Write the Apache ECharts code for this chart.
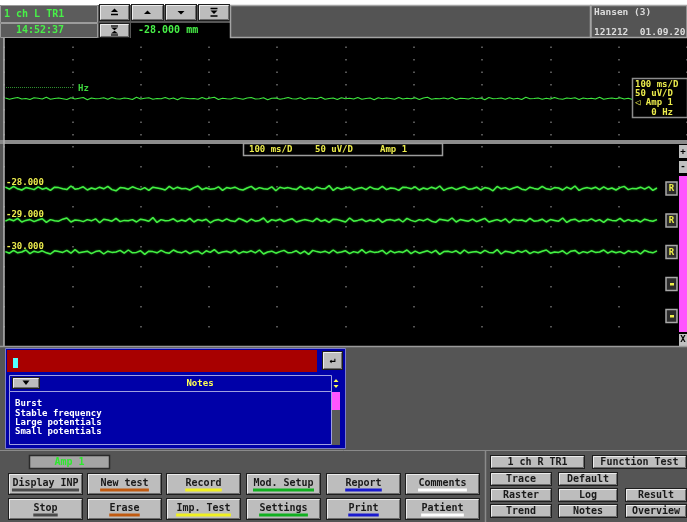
<!DOCTYPE html>
<html>
<head>
<meta charset="utf-8">
<script src="https://cdn.jsdelivr.net/npm/echarts@6/dist/echarts.min.js"></script>
<style>
html, body { margin: 0; padding: 0; background: #fff; }
#main { width: 687px; height: 522px; }
</style>
</head>
<body>
<div id="main"></div>
<script>
// sample spacing of the traces, ms
const SAMPLE_MS = 6

// upper (free run) trace, uV around its baseline
const upperBaseline = -242
const upperNoise = [2, -3, 1, 4, -2, 0, -4, 3, 1, -2,
  5, -3, 0, 2, -1, -4, 3, -2, 1, 4,
  -5, 2, -1, 0, 3, -3, 4, -1, -2, 2,
  0, -4, 5, -2, 1, 3, -3, 0, -1, 4,
  -2, 2, -5, 3, 1, -1, 0, -3, 4, -2,
  2, 5, -4, 1, -1, -2, 3, 0, -3, 2,
  4, -2, -1, 3, -5, 1, 2, -3, 0, 4,
  -1, -2, 3, -4, 2, 1, -1, 5, -3, 0,
  2, -4, 3, -1, 1, -2, 4, -3, 0, 2,
  -5, 3, -1, 2, 0, -3, 4, -2, 1, -1,
  3, -4, 2, 5, -3, 0, -1, 2, -2, 4,
  -4, 1, 0, -2, 3, -1, 2, -5, 4, -1,
  0, 2, -3, 3, -2, 1, -4, 5, -1, 0,
  2, -3, 1, -2, 4, -1, -3, 2, 0, 3,
  -4, 2, -1, 1, -2, 5, -3, 0, 2, -1,
  3, -2, 1, -4, 2]

// lower traces
const channelLabels = ['-28.000', '-29.000', '-30.000']
const channelBaselines = [-111, -191, -270]
const emptySlotBaselines = [-350, -430]
const noiseCh1 = [3, -2, 5, -1, -4, 2, 0, -3, 4, -2,
  1, -5, 3, 2, -1, -3, 6, -2, 0, 4,
  -4, 1, -2, 3, -1, 5, -3, -6, 2, 1,
  -2, 4, 0, -3, 2, -5, 3, 1, -1, -4,
  5, -2, 3, -1, 0, -4, 2, 6, -3, 1,
  -2, -1, 4, -5, 2, 0, 3, -2, -4, 1,
  5, -3, 2, -1, -2, 4, -6, 3, 0, 2,
  -1, -3, 5, -2, 1, -4, 3, 0, -1, 7,
  -5, 2, -2, 1, 3, -4, 0, 2, -3, 4,
  -1, -2, 5, -3, 1, 0, -5, 3, 2, -1,
  4, -4, 1, -2, 3, -1, 6, -5, 0, 2,
  -3, 1, 4, -2, -1, 3, -4, 2, 0, -6,
  5, -1, 2, -3, 1, 4, -2, -4, 3, 0,
  -2, 5, -1, -3, 2, 1, -4, 3, -2, 6,
  -5, 0, 2, -1, 3, -3, 4, -2, 1, -4,
  2, 5, -3, 0, -1, 3, -2, 4, -5, 1]
const noiseCh2 = [-2, 3, -1, 5, -4, 0, 2, -3, 1, 4,
  -5, 2, -1, -2, 3, 6, -4, 1, 0, -3,
  2, -1, 4, -6, 3, 1, -2, 5, -3, 0,
  -1, 2, -4, 3, 1, -2, 7, -5, 2, -1,
  0, 4, -3, 1, -2, 5, -4, 2, -1, 3,
  -6, 0, 2, -2, 4, -1, -3, 5, 1, -4,
  3, -2, 0, 6, -5, 2, -1, 3, -3, 1,
  4, -4, -1, 2, 0, -3, 5, -2, 1, -5,
  3, 2, -1, -4, 6, -2, 0, 3, -3, 1,
  -2, 4, -5, 1, 2, -1, 3, -4, 5, 0,
  -3, 2, -1, 4, -2, -5, 3, 1, -1, 6,
  -4, 2, 0, -2, 3, -3, 1, 5, -4, -1,
  2, -2, 4, -6, 3, 0, 1, -3, 5, -2,
  -1, 3, -4, 2, 0, -2, 6, -5, 1, 3,
  -3, 1, -1, 4, -2, 2, -5, 3, 0, -1,
  5, -3, 2, -2, 1, -4, 3, 0, -2, 2]
const noiseCh3 = [1, -3, 4, -2, 0, 5, -4, 2, -1, 3,
  -2, -5, 3, 1, -1, 4, -3, 6, -2, 0,
  2, -4, 1, 3, -5, 2, -1, 0, 4, -3,
  5, -2, -1, 3, -6, 2, 1, -2, 4, -1,
  -3, 5, 0, -2, 3, -4, 1, 2, -5, 3,
  -1, 6, -3, 0, 2, -2, 4, -4, 1, -1,
  3, -2, 5, -5, 0, 2, -3, 1, 4, -2,
  -1, 3, -4, 2, -6, 4, 1, -1, 2, -3,
  5, -2, 0, 3, -4, 1, -2, 6, -3, 2,
  -1, 0, 4, -5, 3, -2, 1, -1, 5, -4,
  2, -3, 0, 3, -2, 4, -6, 1, 2, -1,
  3, -4, 5, -2, 0, 1, -3, 4, -1, -2,
  6, -5, 2, 0, -3, 3, -1, 4, -4, 1,
  -2, 2, 5, -3, 0, -1, 3, -5, 2, 4,
  -4, 1, -2, 3, -1, 0, 5, -3, 2, -2,
  1, -4, 3, -1, 2, -5, 4, 0, -2, 3]

const notesItems = ['Burst', 'Stable frequency', 'Large potentials', 'Small potentials']
const buttonRow1 = ['Display INP', 'New test', 'Record', 'Mod. Setup', 'Report', 'Comments']
const buttonRow2 = ['Stop', 'Erase', 'Imp. Test', 'Settings', 'Print', 'Patient']
const underlineRow1 = ['#4a4a4a', '#c05a10', '#f0f020', '#10b020', '#1a1ad0', '#ffffff']
const underlineRow2 = ['#4a4a4a', '#c05a10', '#f0f020', '#10b020', '#1a1ad0', '#ffffff']
const sideButtons = ['1 ch R TR1', 'Function Test', 'Trace', 'Default', 'Raster', 'Log', 'Result', 'Trend', 'Notes', 'Overview']

const FONT = '"DejaVu Sans Mono", monospace'
const GREEN = '#48f048'
const YELLOW = '#ecec4c'

const txt = (x, y, text, color, size, align) => ({
  type: 'text', x, y,
  style: {
    text, fill: color, font: `bold ${size}px ${FONT}`,
    textAlign: align || 'left', align: align || 'left',
    textVerticalAlign: 'middle', verticalAlign: 'middle'
  }
})
const box = (x, y, w, h, fill, stroke, lw) => {
  const style = { fill: fill || 'transparent' }
  if (stroke) { style.stroke = stroke; style.lineWidth = lw || 1 }
  return { type: 'rect', shape: { x, y, width: w, height: h }, style }
}
const line = (x1, y1, x2, y2, color, lw, dash) => ({
  type: 'line', shape: { x1, y1, x2, y2 },
  style: { stroke: color, lineWidth: lw || 1, lineDash: dash || null }
})
const tri = (points, color) => ({ type: 'polygon', shape: { points }, style: { fill: color || '#000' } })
const bevel = (x, y, w, h) => [
  box(x, y, w, h, '#1e1e1e'),
  box(x + 1, y + 1, w - 2, h - 2, '#bdbdbd'),
  { type: 'polyline', shape: { points: [[x + 1.5, y + h - 2], [x + 1.5, y + 1.5], [x + w - 2, y + 1.5]] }, style: { stroke: '#ececec', lineWidth: 1, fill: null } },
  { type: 'polyline', shape: { points: [[x + w - 1.5, y + 2], [x + w - 1.5, y + h - 1.5], [x + 2, y + h - 1.5]] }, style: { stroke: '#6c6c6c', lineWidth: 1, fill: null } }
]

const g = []

// header bar
g.push(box(0, 0, 687, 5, '#ffffff'))
g.push(box(0, 5, 687, 33, '#565656'))
g.push(box(0.5, 5.5, 97, 17, '#5c5c5c', '#9c9c9c', 1))
g.push(txt(4, 14, '1 ch L TR1', GREEN, 10))
g.push(box(0.5, 23.5, 97, 14, '#5c5c5c', '#9c9c9c', 1))
g.push(txt(40, 30.5, '14:52:37', GREEN, 10, 'center'))
g.push(...bevel(99, 4, 31, 17), ...bevel(131, 4, 33, 17), ...bevel(165, 4, 32, 17), ...bevel(198, 4, 32, 17), ...bevel(99, 23, 31, 15))
g.push(tri([[111, 12], [118, 12], [114.5, 8.5]]), line(111, 14.5, 118, 14.5, '#000', 1.5))
g.push(tri([[144, 14], [151, 14], [147.5, 10.5]]))
g.push(tri([[177.5, 11], [184.5, 11], [181, 14.5]]))
g.push(line(210.5, 8.5, 217.5, 8.5, '#000', 1.5), tri([[210.5, 10.5], [217.5, 10.5], [214, 14]]), line(210.5, 16, 217.5, 16, '#000', 1.5))
g.push(line(111, 26, 118, 26, '#000', 1.2), tri([[111, 27.5], [118, 27.5], [114.5, 30.2]]), tri([[111, 33.5], [118, 33.5], [114.5, 30.8]]), line(111, 35, 118, 35, '#000', 1.2))
g.push(box(131, 23, 99, 15, '#000'))
g.push(txt(138, 30.5, '-28.000 mm', GREEN, 10))
g.push(box(230.5, 5.5, 360, 32, '#545454', '#a4a4a4', 1.5))
g.push(box(591, 5.5, 96, 32, '#545454', '#a4a4a4', 1.5))
g.push(txt(594, 13, 'Hansen (3)', '#dcdcdc', 9.5))
g.push(txt(594, 33, '121212  01.09.20', '#dcdcdc', 9.5))

// panels
g.push(box(0, 140, 687, 4, '#8c8c8c'))
g.push(line(4, 38, 4, 346, '#b4b4b4', 1.5))
g.push(line(6, 87.5, 74, 87.5, '#2f8f2f', 1, [1, 1]))
g.push(txt(78, 88.5, 'Hz', '#3ed83e', 9))
g.push(box(632.5, 78.5, 55, 39, '#000', '#8c8c8c', 1.5))
g.push(txt(635, 85, '100 ms/D', YELLOW, 9), txt(635, 94, '50 uV/D', YELLOW, 9), txt(635, 103, '\u25C1 Amp 1', YELLOW, 9), txt(673, 113, '0 Hz', YELLOW, 9, 'right'))
g.push(box(243.5, 143.5, 199, 12, '#000', '#9c9c9c', 1.5))
g.push(txt(249, 149.5, '100 ms/D', YELLOW, 9), txt(315, 149.5, '50 uV/D', YELLOW, 9), txt(380, 149.5, 'Amp 1', YELLOW, 9))
g.push(box(677, 144, 10, 202, '#000'))
g.push(box(679, 145, 8, 13, '#c0c0c0'), txt(683, 151.5, '+', '#000', 9, 'center'))
g.push(box(679, 161, 8, 12, '#c0c0c0'), txt(683, 167, '-', '#000', 9, 'center'))
g.push(box(679, 176, 8, 156, '#ff55ff'))
g.push(box(679, 334, 8, 12, '#c0c0c0'), txt(683, 340, 'X', '#000', 9, 'center'))

// notes panel
g.push(box(0, 346, 687, 176, '#555555'))
g.push(line(0, 346.5, 687, 346.5, '#9a9a9a', 1.5))
g.push(box(5.5, 348.5, 340, 100, '#0000a8', '#7c7cc8', 1))
g.push(box(7, 350, 310, 22, '#a80000'))
g.push(box(13, 358, 5, 10, '#55ffff'))
g.push(...bevel(322, 351, 21, 19), txt(332.5, 360.5, '\u21B5', '#000', 10, 'center'))
g.push(box(9.5, 375.5, 322, 16, null, '#a0a0e0', 1))
g.push(...bevel(12, 377, 28, 12), tri([[22.5, 380.5], [29.5, 380.5], [26, 385]]))
g.push(txt(200, 383.5, 'Notes', '#ffff55', 9, 'center'))
g.push(box(9.5, 391.5, 322, 53, null, '#a0a0e0', 1))
g.push(tri([[333.5, 382], [338.5, 382], [336, 379]], '#ffff55'), tri([[333.5, 385], [338.5, 385], [336, 388]], '#ffff55'))
g.push(box(332, 392, 8, 18, '#ff55ff'), box(332, 410, 8, 35, '#5a5a5a'))
notesItems.forEach((t, i) => g.push(txt(15, 404 + i * 9.3, t, '#ffffff', 9)))

// button area
g.push(line(0, 450.5, 687, 450.5, '#8a8a8a', 1), line(485.5, 451, 485.5, 522, '#8a8a8a', 1.5))
g.push(box(29.5, 455.5, 80, 13, '#a4a4a4', '#2a2a2a', 1.5), txt(69.5, 462, 'Amp 1', '#2ee82e', 10, 'center'))
const rowX = [8, 87, 166, 246, 326, 405]
const addRow = (labels, colors, y) => labels.forEach((t, i) => {
  const x = rowX[i], cx = x + 37.5, tw = t.length * 6.1
  g.push(...bevel(x, y, 75, 22))
  g.push(txt(cx, y + 10.5, t, '#1a1a1a', 10, 'center'))
  g.push(box(cx - tw / 2, y + 15.5, tw, 3, colors[i]))
})
addRow(buttonRow1, underlineRow1, 473)
addRow(buttonRow2, underlineRow2, 498)
const sideLayout = [[490, 455, 95, 14], [592, 455, 95, 14], [490, 472, 62, 14], [558, 472, 60, 14], [490, 488, 62, 14],
  [558, 488, 60, 14], [625, 488, 62, 14], [490, 504, 62, 14], [558, 504, 60, 14], [625, 504, 62, 14]]
sideButtons.forEach((t, i) => {
  const [x, y, w, h] = sideLayout[i]
  g.push(...bevel(x, y, w, h), txt(x + w / 2, y + h / 2 + 0.5, t, '#1a1a1a', 10, 'center'))
})

const toPoints = (noise, base) => noise.map((v, i) => [i * SAMPLE_MS + 2, base + v])

const hiddenX = (gridIndex, dash, offset) => ({
  gridIndex, type: 'value', min: 0, max: 1000, interval: 100,
  axisLine: { show: false }, axisTick: { show: false }, axisLabel: { show: false },
  splitLine: { show: true, lineStyle: { color: '#707070', width: 1.5, type: dash, dashOffset: offset } }
})

const option = {
  backgroundColor: '#555555',
  animation: false,
  grid: [
    { left: 4, top: 38, width: 690, height: 102, show: true, backgroundColor: '#000', borderWidth: 0 },
    { left: 4, top: 144, width: 690, height: 202, show: true, backgroundColor: '#000', borderWidth: 0 }
  ],
  xAxis: [hiddenX(0, [1.5, 11], 4), hiddenX(1, [1.5, 18.5], 18)],
  yAxis: [
    { gridIndex: 0, type: 'value', min: -408, max: 0, show: false },
    { gridIndex: 1, type: 'value', min: -505, max: 0, show: false }
  ],
  series: [
    {
      type: 'line', xAxisIndex: 0, yAxisIndex: 0, symbol: 'none', silent: true,
      data: toPoints(upperNoise, upperBaseline),
      lineStyle: { color: '#3ee83e', width: 1.2 }
    },
    ...[noiseCh1, noiseCh2, noiseCh3].map((n, i) => ({
      type: 'line', xAxisIndex: 1, yAxisIndex: 1, symbol: 'none', silent: true,
      data: toPoints(n, channelBaselines[i]),
      lineStyle: { color: '#44f044', width: 1.5, shadowColor: 'rgba(30,170,30,0.8)', shadowBlur: 2 }
    }))
  ]
}

const chart = echarts.init(document.getElementById('main'))
chart.setOption(option)

// channel labels and slot buttons placed through the lower grid scale
const slotButton = (y, filled) => {
  g.push(box(666, y - 6.5, 11, 13, '#2c2c2c', '#a8a8a8', 1.5))
  if (filled) g.push(txt(671.5, y + 0.5, 'R', YELLOW, 9, 'center'))
  else g.push(box(670, y - 1, 4, 2.5, YELLOW))
}
channelBaselines.forEach((b, i) => {
  const y = chart.convertToPixel({ gridIndex: 1 }, [0, b])[1]
  g.push(txt(6, y - 5.5, channelLabels[i], YELLOW, 9))
  slotButton(y, true)
})
emptySlotBaselines.forEach(b => slotButton(chart.convertToPixel({ gridIndex: 1 }, [0, b])[1], false))

option.graphic = { elements: g.map(e => Object.assign({ z: 10 }, e)) }
chart.setOption(option, true)
</script>
</body>
</html>
